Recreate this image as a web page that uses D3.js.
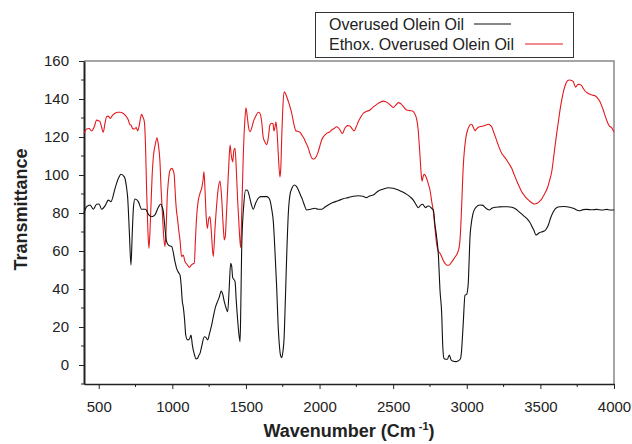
<!DOCTYPE html>
<html>
<head>
<meta charset="utf-8">
<script src="https://cdn.jsdelivr.net/npm/d3@7"></script>
<style>
  body { margin: 0; background: #fff; }
  svg { font-family: "Liberation Sans", Arial, sans-serif; }
  .axis path.domain { stroke: #222; }
  .axis line { stroke: #222; }
  .axis text { fill: #222; font-size: 15px; }
</style>
</head>
<body>
<div id="chart"></div>
<script>
// overused olein oil (black)
const blackWn = [400,418,441,463,486,502,520,545,565,583,611,635,651,674,688,697,708,719,728,737,746,769,791,818,840,859,882,905,921,932,939,950,961,975,996,1018,1029,1045,1052,1060,1068,1074,1083,1091,1100,1108,1118,1127,1136,1150,1161,1170,1180,1188,1200,1217,1228,1240,1254,1267,1280,1294,1310,1320,1331,1343,1353,1365,1376,1386,1396,1403,1410,1418,1426,1434,1441,1450,1460,1465,1471,1485,1498,1510,1521,1535,1550,1565,1580,1600,1618,1641,1652,1663,1675,1686,1697,1709,1718,1727,1735,1743,1751,1759,1768,1777,1788,1799,1812,1829,1843,1856,1870,1885,1900,1912,1940,1969,1990,2014,2035,2059,2090,2127,2160,2195,2230,2263,2295,2320,2340,2365,2399,2430,2467,2500,2535,2565,2592,2615,2637,2655,2671,2685,2700,2712,2721,2732,2743,2761,2773,2784,2795,2807,2818,2830,2836,2845,2856,2868,2881,2893,2904,2927,2949,2958,2965,2970,2976,2988,2999,3010,3016,3022,3030,3040,3050,3062,3090,3110,3124,3140,3153,3170,3192,3220,3248,3275,3305,3335,3362,3385,3407,3425,3441,3455,3470,3480,3493,3515,3531,3545,3554,3570,3588,3610,3633,3660,3679,3700,3724,3745,3765,3790,3814,3850,3882,3920,3950,3975,4000];
const blackT = [80,83.3,84.2,82,84.6,84.7,82,84,86.8,86,93,98.5,100.4,99,94,87.7,70,52.6,70,84,87.4,86,82,82,79,78,79,83,84.7,83,80.7,72,64.9,63,62.3,54.4,50.9,48.3,47.4,42,33.3,30.7,24,15.8,13.5,13.2,14,15.8,10.5,5.5,3.2,3.4,5,6.1,10,14.9,14.5,13.2,17,21,26,30.7,34,36,38.9,37,33.3,30,28,40,53.5,52,46,45,43.9,34,26.3,18,12.3,30,61.4,84,92.1,92,89.5,85,82,85,87.4,88.6,88.6,88.6,88.2,86.8,82,75.4,60,40.4,22,10.5,5,3.9,7,14,35,57.9,80,89.5,93,94.7,94,92.1,89.5,86.8,83.5,81.6,82,82.5,82,82,83,84.2,85.5,86.5,87.5,88.1,88.8,89.1,88.8,88.1,89,89.5,91.6,92.5,93.3,93,92.1,91,89.8,88.5,86.8,84.5,82.8,84,84.6,83.5,82.8,83.5,83.7,82.5,81.6,73.7,67.5,57.9,39.5,26.3,11.4,3.5,3,3,5.3,2.8,2.1,1.8,2.6,3.5,7.9,14,21.9,36.8,37.2,43,55,67.5,74,78.9,81.5,83,84.2,84,83,82,81.6,82.5,83,83.2,83.3,83.3,83,82,80.2,78.6,77.2,75.5,73.2,71,68.4,68.8,69.6,70.2,70.7,72.2,73.7,77.5,80.7,82.8,83.3,83.4,83.3,83,82.5,81.6,81.2,81.8,81.9,81.7,81.9,81.6,81.9,81.6,81.6];

// ethoxylated (red)
const redWn = [400,418,435,452,470,486,500,509,520,531,542,554,565,577,595,611,630,645,662,678,690,701,712,719,730,742,755,764,775,784,791,800,810,818,825,833,841,848,855,863,871,884,896,905,916,924,932,941,950,958,965,973,985,996,1005,1013,1018,1025,1036,1045,1052,1063,1074,1086,1100,1115,1128,1138,1149,1157,1165,1175,1188,1199,1208,1215,1222,1230,1238,1247,1256,1265,1278,1290,1301,1312,1324,1335,1345,1353,1360,1368,1376,1384,1392,1401,1410,1418,1426,1435,1444,1454,1464,1473,1482,1492,1500,1510,1518,1528,1540,1550,1567,1584,1595,1607,1617,1630,1641,1652,1663,1675,1684,1690,1697,1704,1712,1720,1731,1737,1743,1751,1759,1768,1777,1795,1811,1825,1840,1853,1867,1880,1894,1910,1924,1936,1946,1958,1969,1980,1991,2003,2014,2030,2048,2065,2082,2100,2116,2128,2139,2150,2157,2168,2180,2192,2202,2215,2234,2250,2263,2280,2297,2320,2343,2360,2377,2405,2433,2450,2467,2485,2501,2518,2535,2550,2564,2580,2592,2612,2632,2645,2655,2663,2671,2677,2682,2690,2696,2703,2710,2718,2727,2738,2750,2762,2773,2784,2795,2806,2818,2830,2840,2852,2866,2881,2895,2908,2922,2936,2949,2956,2965,2976,2985,2995,3005,3017,3025,3033,3045,3056,3067,3078,3095,3112,3130,3146,3160,3169,3183,3198,3215,3237,3255,3271,3290,3305,3322,3339,3356,3373,3390,3407,3425,3441,3455,3463,3478,3493,3507,3520,3535,3547,3560,3577,3588,3599,3610,3622,3633,3645,3656,3668,3679,3690,3701,3712,3724,3731,3740,3750,3758,3768,3780,3792,3803,3820,3837,3855,3871,3888,3905,3916,3927,3938,3950,3960,3968,3976,3984,3992,4000];
const redT = [121.9,124.2,124.5,123.2,125.5,128.9,128.5,128,125,122.5,127,130.7,131,129.8,131.5,132.5,133,133,132.6,131.6,130.5,128.9,126.5,126.3,124.5,124.2,125,123.2,126,130,131.9,130.5,128,115,93,73,61.4,70,84.2,100,109.6,116,119.6,116,107,92,80.7,68,62.3,72,88,96.5,102.6,103.5,102.5,100,93,84,76.3,70,65.8,57,57.9,54.4,53,51.4,52.5,53.2,53.5,66,78,86,90.4,93,97,101.7,92,78,71.9,77,78,70,57,72,84.2,93,96.8,88,74,65.8,68,80,93,106,115.8,110,107,113,114,102,86,72,61.7,85,110.5,128,135.4,130,125,122.8,125,128,131,133,132.5,128,120,117.2,116,119.6,126.3,127.2,127,123.2,125,128,122,110.5,99,104,119.3,136,143.8,143,141.2,137,132.5,127,123.2,123,122.5,121,119.3,116.5,114,111,109.1,108.4,108.8,110,112.3,115.5,118.4,120.5,121.9,122.5,123.7,124.5,125.4,124.8,123.7,122.2,121.9,124,125.4,126,125.9,125,123.2,125.5,128,130.5,132.5,133.5,134.2,135.5,136.5,138,138.9,138.5,137.7,136.5,135.6,136.8,138.1,137.6,136.5,135,134.2,133.9,133.7,132.5,130.7,128,122.8,116,110.5,101,96.8,99,100.4,99.8,98.3,95.5,92.1,86,80.7,72,64,60,58.8,57,55,53.5,52.5,52.6,54,55.3,57,58.8,62.3,68,83.3,104.4,114,120.2,123.5,125.8,126.5,126.7,125,123.3,124.3,125.1,125.5,125.8,126.3,126.7,126.2,125.4,122.5,119.3,115.5,111.4,109.5,107.9,105.5,103.5,100.2,97,94,91.2,89.3,87.7,86.4,85.4,84.8,84.7,85.1,86,87.2,88.9,91,93,96.5,101.7,108,114.9,121.5,128,134,139.5,143.8,147,149.1,149.9,150,149.7,149.1,147.5,146.2,147.3,147.7,147.6,147,145.5,144.2,143.2,142.5,142,141.7,140.5,138.6,136.5,134.2,131.5,128.9,127,125.9,125.4,124.9,123.8,122.8];

const seriesNames = ["Overused Olein Oil", "Ethox. Overused Olein Oil"];
const seriesColors = ["#111111", "#e3191d"];
const xTicks = [500, 1000, 1500, 2000, 2500, 3000, 3500, 4000];
const yTicks = [0, 20, 40, 60, 80, 100, 120, 140, 160];

const W = 632, H = 444;
const margin = { top: 61, right: 18, bottom: 60, left: 84 };
const width = W - margin.left - margin.right,
  height = H - margin.top - margin.bottom;

const svg = d3.select('#chart').append('svg')
  .attr('width', W).attr('height', H);

const x = d3.scaleLinear().domain([400, 4000]).range([margin.left, margin.left + width]);
const y = d3.scaleLinear().domain([-10, 160]).range([margin.top + height, margin.top]);

// frame top / right
svg.append('path')
  .attr('d', `M${x(400)},${y(160)}H${x(4000)}V${y(-10)}`)
  .attr('fill', 'none').attr('stroke', '#888').attr('stroke-width', 1.5);

// minor ticks
const xMinor = d3.range(750, 4000, 500);
const yMinor = d3.range(-10, 160, 20);
svg.append('g').selectAll('line').data(xMinor).join('line')
  .attr('x1', d => x(d)).attr('x2', d => x(d))
  .attr('y1', y(-10)).attr('y2', y(-10) + 3)
  .attr('stroke', '#222');
svg.append('g').selectAll('line').data(yMinor).join('line')
  .attr('y1', d => y(d)).attr('y2', d => y(d))
  .attr('x1', x(400)).attr('x2', x(400) - 3)
  .attr('stroke', '#222');

svg.append('g').attr('class', 'axis')
  .attr('transform', `translate(0,${y(-10)})`)
  .call(d3.axisBottom(x).tickValues(xTicks).tickFormat(d3.format('d')).tickSize(5).tickPadding(12).tickSizeOuter(0))
  .call(g => g.select('.domain').attr('stroke-width', 1.5));

svg.append('g').attr('class', 'axis')
  .attr('transform', `translate(${x(400)},0)`)
  .call(d3.axisLeft(y).tickValues(yTicks).tickFormat(d3.format('d')).tickSize(5).tickPadding(10).tickSizeOuter(0))
  .call(g => g.select('.domain').attr('stroke-width', 2));

// curves
const line = d3.line()
  .x(d => x(d[0])).y(d => y(d[1]))
  .curve(d3.curveMonotoneX);

const blackData = blackWn.map((w, i) => [w, blackT[i]]);
const redData = redWn.map((w, i) => [w, redT[i]]);

svg.append('path').datum(redData)
  .attr('d', line).attr('fill', 'none')
  .attr('stroke', seriesColors[1]).attr('stroke-width', 1.1);
svg.append('path').datum(blackData)
  .attr('d', line).attr('fill', 'none')
  .attr('stroke', seriesColors[0]).attr('stroke-width', 1.1);

// axis titles
svg.append('text')
  .attr('transform', `translate(27,${(y(-10) + y(160)) / 2 - 13}) rotate(-90)`)
  .attr('text-anchor', 'middle')
  .attr('font-size', 18).attr('font-weight', 'bold').attr('fill', '#222')
  .text('Transmittance');

const xt = svg.append('text')
  .attr('x', (x(400) + x(4000)) / 2).attr('y', 437)
  .attr('text-anchor', 'middle')
  .attr('font-size', 18).attr('font-weight', 'bold').attr('fill', '#222');
xt.append('tspan').text('Wavenumber (Cm');
xt.append('tspan').attr('font-size', 11).attr('dy', -7).attr('dx', 3).text('-1');
xt.append('tspan').attr('dy', 7).text(')');

// legend
const lg = svg.append('g');
lg.append('rect')
  .attr('x', 315.5).attr('y', 12.5).attr('width', 258).attr('height', 45)
  .attr('fill', '#fff').attr('stroke', '#333');
const rows = [
  { y: 24, x1: 474, x2: 511 },
  { y: 44, x1: 525, x2: 563 }
];
rows.forEach((r, i) => {
  lg.append('text')
    .attr('x', 329).attr('y', r.y + 5.5)
    .attr('font-size', 16).attr('fill', '#222')
    .text(seriesNames[i]);
  lg.append('line')
    .attr('x1', r.x1).attr('x2', r.x2).attr('y1', r.y).attr('y2', r.y)
    .attr('stroke', seriesColors[i]).attr('stroke-width', 1.2);
});
</script>
</body>
</html>
